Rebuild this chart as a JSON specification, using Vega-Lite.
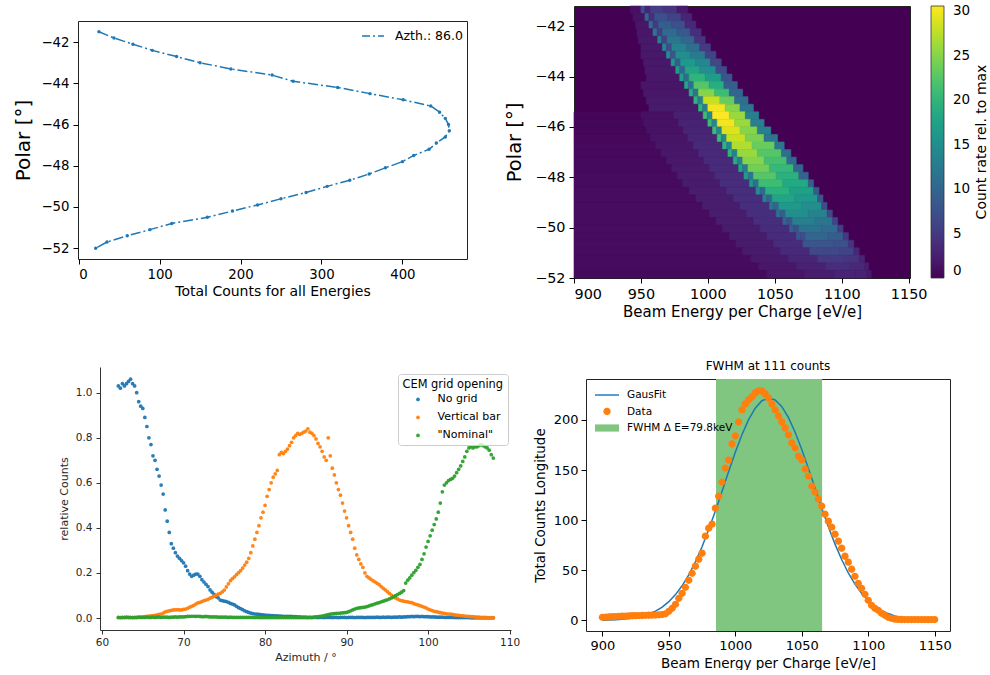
{
"$schema":"https://vega.github.io/schema/vega-lite/v6.json",
"padding":{"left":13,"top":5,"right":0,"bottom":0},
"config":{"font":"DejaVu Sans","view":{"stroke":null},
"axis":{"grid":false,"domainColor":"#000","tickColor":"#000","labelColor":"#000","titleColor":"#000","titleFontWeight":"normal","tickSize":5,"labelFont":"DejaVu Sans","titleFont":"DejaVu Sans"},
"legend":{"labelFont":"DejaVu Sans","titleFont":"DejaVu Sans","labelColor":"#000","titleColor":"#000"},
"title":{"font":"DejaVu Sans","color":"#000"}},
"spacing":39,
"resolve":{"scale":{"color":"independent","shape":"independent","stroke":"independent"},"legend":{"color":"independent","shape":"independent","stroke":"independent"}},
"vconcat":[
{"spacing":36,"resolve":{"scale":{"color":"independent","shape":"independent","stroke":"independent"},"legend":{"color":"independent","shape":"independent","stroke":"independent"}},"hconcat":[
 {"bounds":"flush","spacing":14,"resolve":{"scale":{"color":"independent"},"legend":{"color":"independent"}},"vconcat":[
  {"width":1,"height":1,"data":{"values":[]},"mark":"point"},
  {"width":389,"height":238,"view":{"stroke":"#222"},
   "data":{"values":[
{"i":1,"x":25,"y":-41.5},{"i":2,"x":43.6,"y":-41.8},{"i":3,"x":67,"y":-42.1},{"i":4,"x":91,"y":-42.4},{"i":5,"x":121,"y":-42.7},{"i":6,"x":150,"y":-43.0},{"i":7,"x":188,"y":-43.3},{"i":8,"x":239,"y":-43.6},{"i":9,"x":265,"y":-43.9},{"i":10,"x":320,"y":-44.2},{"i":11,"x":360,"y":-44.5},{"i":12,"x":401,"y":-44.8},{"i":13,"x":435,"y":-45.1},{"i":14,"x":446,"y":-45.4},{"i":15,"x":453,"y":-45.7},{"i":16,"x":457,"y":-46.0},{"i":17,"x":458,"y":-46.3},{"i":18,"x":453,"y":-46.6},{"i":19,"x":442,"y":-46.9},{"i":20,"x":433,"y":-47.2},{"i":21,"x":414,"y":-47.5},{"i":22,"x":400,"y":-47.8},{"i":23,"x":379,"y":-48.1},{"i":24,"x":359,"y":-48.4},{"i":25,"x":335,"y":-48.7},{"i":26,"x":307,"y":-49.0},{"i":27,"x":281,"y":-49.3},{"i":28,"x":250,"y":-49.6},{"i":29,"x":221,"y":-49.9},{"i":30,"x":190,"y":-50.2},{"i":31,"x":159,"y":-50.5},{"i":32,"x":115,"y":-50.8},{"i":33,"x":88,"y":-51.1},{"i":34,"x":60,"y":-51.4},{"i":35,"x":35,"y":-51.7},{"i":36,"x":21,"y":-52.0}]},
   "encoding":{
    "x":{"field":"x","type":"quantitative","scale":{"domain":[-0.85,479.85],"nice":false,"zero":false},"axis":{"values":[0,100,200,300,400],"format":"d","title":"Total Counts for all Energies","labelFontSize":13.3,"titleFontSize":14,"labelPadding":3,"titlePadding":4,"domain":false}},
    "y":{"field":"y","type":"quantitative","scale":{"domain":[-52.525,-40.975],"nice":false,"zero":false},"axis":{"values":[-52,-50,-48,-46,-44,-42],"format":"d","title":"Polar [°]","labelFontSize":13.3,"titleFontSize":20,"labelPadding":4,"titlePadding":7,"domain":false}}},
   "layer":[
    {"mark":{"type":"line","strokeDash":[10,3,2,3],"strokeWidth":1.5},
     "encoding":{"order":{"field":"i","type":"quantitative"},
      "color":{"datum":"Azth.: 86.0","scale":{"range":["#1f77b4"]},"legend":{"title":null,"orient":"none","legendX":283,"legendY":3,"symbolType":"stroke","symbolStrokeWidth":1.5,"symbolDash":[8,3,2,3],"symbolSize":484,"labelFontSize":12.5,"labelOffset":10,"padding":0}}}},
    {"mark":{"type":"point","filled":true,"size":12,"color":"#1f77b4","opacity":1},"encoding":{}}
   ]}
 ]},
 {"width":336,"height":272,"view":{"stroke":"#222","fill":"#440154"},
  "title":{"text":"Count rate rel. to max","orient":"right","angle":270,"fontSize":14,"fontWeight":"normal","anchor":"middle","frame":"group","offset":-10},
  "data":{"values":[
{"p":-41.5,"q":-41.2,"a":942,"b":950,"c":1.2},{"p":-41.5,"q":-41.2,"a":950,"b":953,"c":7},{"p":-41.5,"q":-41.2,"a":953,"b":957,"c":3},{"p":-41.5,"q":-41.2,"a":957,"b":967,"c":5.5},{"p":-41.5,"q":-41.2,"a":967,"b":977,"c":4.5},{"p":-41.5,"q":-41.2,"a":977,"b":985,"c":2},
{"p":-41.8,"q":-41.5,"a":944,"b":953,"c":1.4},{"p":-41.8,"q":-41.5,"a":953,"b":956,"c":10},{"p":-41.8,"q":-41.5,"a":956,"b":960,"c":4},{"p":-41.8,"q":-41.5,"a":960,"b":970,"c":7.5},{"p":-41.8,"q":-41.5,"a":970,"b":980,"c":6},{"p":-41.8,"q":-41.5,"a":980,"b":988,"c":3},
{"p":-42.1,"q":-41.8,"a":946,"b":956,"c":1.6},{"p":-42.1,"q":-41.8,"a":956,"b":959,"c":11},{"p":-42.1,"q":-41.8,"a":959,"b":963,"c":5},{"p":-42.1,"q":-41.8,"a":963,"b":973,"c":9},{"p":-42.1,"q":-41.8,"a":973,"b":983,"c":7.5},{"p":-42.1,"q":-41.8,"a":983,"b":991,"c":3.5},
{"p":-42.4,"q":-42.1,"a":947,"b":959,"c":1.8},{"p":-42.4,"q":-42.1,"a":959,"b":962,"c":12},{"p":-42.4,"q":-42.1,"a":962,"b":966,"c":5.5},{"p":-42.4,"q":-42.1,"a":966,"b":977,"c":10.5},{"p":-42.4,"q":-42.1,"a":977,"b":987,"c":8.5},{"p":-42.4,"q":-42.1,"a":987,"b":995,"c":4},
{"p":-42.7,"q":-42.4,"a":948,"b":962.5,"c":1.9},{"p":-42.7,"q":-42.4,"a":962.5,"b":965.5,"c":13},{"p":-42.7,"q":-42.4,"a":965.5,"b":969.5,"c":6},{"p":-42.7,"q":-42.4,"a":969.5,"b":980,"c":12},{"p":-42.7,"q":-42.4,"a":980,"b":990,"c":10},{"p":-42.7,"q":-42.4,"a":990,"b":998,"c":4.5},
{"p":-43.0,"q":-42.7,"a":950,"b":966,"c":1.9},{"p":-43.0,"q":-42.7,"a":966,"b":969,"c":14},{"p":-43.0,"q":-42.7,"a":969,"b":973,"c":7},{"p":-43.0,"q":-42.7,"a":973,"b":984,"c":13.5},{"p":-43.0,"q":-42.7,"a":984,"b":994,"c":11},{"p":-43.0,"q":-42.7,"a":994,"b":1002,"c":5},
{"p":-43.3,"q":-43.0,"a":950,"b":969,"c":1.9},{"p":-43.3,"q":-43.0,"a":969,"b":972,"c":15},{"p":-43.3,"q":-43.0,"a":972,"b":976,"c":8},{"p":-43.3,"q":-43.0,"a":976,"b":987,"c":15},{"p":-43.3,"q":-43.0,"a":987,"b":998,"c":12.5},{"p":-43.3,"q":-43.0,"a":998,"b":1006,"c":6},
{"p":-43.6,"q":-43.3,"a":952,"b":972.5,"c":1.9},{"p":-43.6,"q":-43.3,"a":972.5,"b":975.5,"c":16},{"p":-43.6,"q":-43.3,"a":975.5,"b":979.5,"c":9},{"p":-43.6,"q":-43.3,"a":979.5,"b":991,"c":16.5},{"p":-43.6,"q":-43.3,"a":991,"b":1002,"c":14},{"p":-43.6,"q":-43.3,"a":1002,"b":1010,"c":6.5},
{"p":-43.9,"q":-43.6,"a":953,"b":976,"c":1.9},{"p":-43.9,"q":-43.6,"a":976,"b":979,"c":17},{"p":-43.9,"q":-43.6,"a":979,"b":983,"c":10},{"p":-43.9,"q":-43.6,"a":983,"b":994,"c":18},{"p":-43.9,"q":-43.6,"a":994,"b":1006,"c":15},{"p":-43.9,"q":-43.6,"a":1006,"b":1014,"c":7},
{"p":-44.2,"q":-43.9,"a":954,"b":979,"c":1.8},{"p":-44.2,"q":-43.9,"a":979,"b":982,"c":17.5},{"p":-44.2,"q":-43.9,"a":982,"b":986,"c":10.5},{"p":-44.2,"q":-43.9,"a":986,"b":998,"c":20},{"p":-44.2,"q":-43.9,"a":998,"b":1010,"c":17},{"p":-44.2,"q":-43.9,"a":1010,"b":1018,"c":8},
{"p":-44.5,"q":-44.2,"a":950,"b":982.5,"c":1.6},{"p":-44.5,"q":-44.2,"a":982.5,"b":985.5,"c":18},{"p":-44.5,"q":-44.2,"a":985.5,"b":989.5,"c":11},{"p":-44.5,"q":-44.2,"a":989.5,"b":1001,"c":22.5},{"p":-44.5,"q":-44.2,"a":1001,"b":1012,"c":19},{"p":-44.5,"q":-44.2,"a":1012,"b":1022,"c":9},
{"p":-44.8,"q":-44.5,"a":952,"b":986,"c":1.8},{"p":-44.8,"q":-44.5,"a":986,"b":989,"c":19},{"p":-44.8,"q":-44.5,"a":989,"b":993,"c":12},{"p":-44.8,"q":-44.5,"a":993,"b":1005,"c":25},{"p":-44.8,"q":-44.5,"a":1005,"b":1016,"c":21},{"p":-44.8,"q":-44.5,"a":1016,"b":1026,"c":10},
{"p":-45.1,"q":-44.8,"a":954,"b":989.5,"c":2},{"p":-45.1,"q":-44.8,"a":989.5,"b":992.5,"c":20},{"p":-45.1,"q":-44.8,"a":992.5,"b":996.5,"c":13},{"p":-45.1,"q":-44.8,"a":996.5,"b":1009,"c":28},{"p":-45.1,"q":-44.8,"a":1009,"b":1020,"c":23.5},{"p":-45.1,"q":-44.8,"a":1020,"b":1030,"c":11},
{"p":-45.4,"q":-45.1,"a":956,"b":993,"c":2.2},{"p":-45.4,"q":-45.1,"a":993,"b":996,"c":20},{"p":-45.4,"q":-45.1,"a":996,"b":1000,"c":13},{"p":-45.4,"q":-45.1,"a":1000,"b":1013,"c":30},{"p":-45.4,"q":-45.1,"a":1013,"b":1024,"c":25},{"p":-45.4,"q":-45.1,"a":1024,"b":1034,"c":12},
{"p":-45.7,"q":-45.4,"a":900,"b":950,"c":0.4},{"p":-45.7,"q":-45.4,"a":950,"b":974.5,"c":1.2},{"p":-45.7,"q":-45.4,"a":974.5,"b":996.5,"c":2.6},{"p":-45.7,"q":-45.4,"a":996.5,"b":999.5,"c":21},{"p":-45.7,"q":-45.4,"a":999.5,"b":1003.5,"c":14},{"p":-45.7,"q":-45.4,"a":1003.5,"b":1016,"c":30.5},{"p":-45.7,"q":-45.4,"a":1016,"b":1028,"c":26},{"p":-45.7,"q":-45.4,"a":1028,"b":1038,"c":13},
{"p":-46.0,"q":-45.7,"a":900,"b":952,"c":0.45},{"p":-46.0,"q":-45.7,"a":952,"b":978,"c":1.3},{"p":-46.0,"q":-45.7,"a":978,"b":1000,"c":2.8},{"p":-46.0,"q":-45.7,"a":1000,"b":1003,"c":21},{"p":-46.0,"q":-45.7,"a":1003,"b":1007,"c":14},{"p":-46.0,"q":-45.7,"a":1007,"b":1020,"c":30},{"p":-46.0,"q":-45.7,"a":1020,"b":1032,"c":26},{"p":-46.0,"q":-45.7,"a":1032,"b":1042,"c":13},
{"p":-46.3,"q":-46.0,"a":900,"b":954,"c":0.5},{"p":-46.3,"q":-46.0,"a":954,"b":981.5,"c":1.4},{"p":-46.3,"q":-46.0,"a":981.5,"b":1003.5,"c":3},{"p":-46.3,"q":-46.0,"a":1003.5,"b":1006.5,"c":21},{"p":-46.3,"q":-46.0,"a":1006.5,"b":1010.5,"c":14},{"p":-46.3,"q":-46.0,"a":1010.5,"b":1024,"c":29},{"p":-46.3,"q":-46.0,"a":1024,"b":1037,"c":25},{"p":-46.3,"q":-46.0,"a":1037,"b":1047,"c":13},
{"p":-46.6,"q":-46.3,"a":900,"b":957,"c":0.55},{"p":-46.6,"q":-46.3,"a":957,"b":985,"c":1.5},{"p":-46.6,"q":-46.3,"a":985,"b":1007,"c":3.2},{"p":-46.6,"q":-46.3,"a":1007,"b":1010,"c":21},{"p":-46.6,"q":-46.3,"a":1010,"b":1014,"c":14},{"p":-46.6,"q":-46.3,"a":1014,"b":1028,"c":28},{"p":-46.6,"q":-46.3,"a":1028,"b":1042,"c":24.5},{"p":-46.6,"q":-46.3,"a":1042,"b":1052,"c":12},
{"p":-46.9,"q":-46.6,"a":900,"b":961,"c":0.6},{"p":-46.9,"q":-46.6,"a":961,"b":989,"c":1.7},{"p":-46.9,"q":-46.6,"a":989,"b":1011,"c":3.4},{"p":-46.9,"q":-46.6,"a":1011,"b":1014,"c":20},{"p":-46.9,"q":-46.6,"a":1014,"b":1018,"c":14},{"p":-46.9,"q":-46.6,"a":1018,"b":1033,"c":27},{"p":-46.9,"q":-46.6,"a":1033,"b":1050,"c":23.5},{"p":-46.9,"q":-46.6,"a":1050,"b":1057,"c":12},
{"p":-47.2,"q":-46.9,"a":900,"b":965,"c":0.6},{"p":-47.2,"q":-46.9,"a":965,"b":993,"c":1.8},{"p":-47.2,"q":-46.9,"a":993,"b":1015,"c":3.5},{"p":-47.2,"q":-46.9,"a":1015,"b":1018,"c":20},{"p":-47.2,"q":-46.9,"a":1018,"b":1022,"c":13.5},{"p":-47.2,"q":-46.9,"a":1022,"b":1037,"c":26},{"p":-47.2,"q":-46.9,"a":1037,"b":1055,"c":22.5},{"p":-47.2,"q":-46.9,"a":1055,"b":1062,"c":11},
{"p":-47.5,"q":-47.2,"a":900,"b":969,"c":0.7},{"p":-47.5,"q":-47.2,"a":969,"b":997,"c":1.9},{"p":-47.5,"q":-47.2,"a":997,"b":1019,"c":3.6},{"p":-47.5,"q":-47.2,"a":1019,"b":1022,"c":19},{"p":-47.5,"q":-47.2,"a":1022,"b":1026,"c":13},{"p":-47.5,"q":-47.2,"a":1026,"b":1042,"c":25},{"p":-47.5,"q":-47.2,"a":1042,"b":1059,"c":21.5},{"p":-47.5,"q":-47.2,"a":1059,"b":1066,"c":10.5},
{"p":-47.8,"q":-47.5,"a":900,"b":973,"c":0.7},{"p":-47.8,"q":-47.5,"a":973,"b":1001,"c":2},{"p":-47.8,"q":-47.5,"a":1001,"b":1023,"c":3.7},{"p":-47.8,"q":-47.5,"a":1023,"b":1026,"c":18},{"p":-47.8,"q":-47.5,"a":1026,"b":1030,"c":12.5},{"p":-47.8,"q":-47.5,"a":1030,"b":1046,"c":24},{"p":-47.8,"q":-47.5,"a":1046,"b":1064,"c":20.5},{"p":-47.8,"q":-47.5,"a":1064,"b":1071,"c":10},
{"p":-48.1,"q":-47.8,"a":900,"b":977,"c":0.8},{"p":-48.1,"q":-47.8,"a":977,"b":1005,"c":2.1},{"p":-48.1,"q":-47.8,"a":1005,"b":1027,"c":3.8},{"p":-48.1,"q":-47.8,"a":1027,"b":1030,"c":17},{"p":-48.1,"q":-47.8,"a":1030,"b":1034,"c":12},{"p":-48.1,"q":-47.8,"a":1034,"b":1051,"c":22.5},{"p":-48.1,"q":-47.8,"a":1051,"b":1068,"c":19.5},{"p":-48.1,"q":-47.8,"a":1068,"b":1075,"c":9.5},
{"p":-48.4,"q":-48.1,"a":900,"b":981,"c":0.8},{"p":-48.4,"q":-48.1,"a":981,"b":1009,"c":2.2},{"p":-48.4,"q":-48.1,"a":1009,"b":1031,"c":3.9},{"p":-48.4,"q":-48.1,"a":1031,"b":1034,"c":16},{"p":-48.4,"q":-48.1,"a":1034,"b":1038,"c":11},{"p":-48.4,"q":-48.1,"a":1038,"b":1056,"c":21},{"p":-48.4,"q":-48.1,"a":1056,"b":1075,"c":18.5},{"p":-48.4,"q":-48.1,"a":1075,"b":1079,"c":9},
{"p":-48.7,"q":-48.4,"a":900,"b":986,"c":0.9},{"p":-48.7,"q":-48.4,"a":986,"b":1014,"c":2.3},{"p":-48.7,"q":-48.4,"a":1014,"b":1036,"c":4},{"p":-48.7,"q":-48.4,"a":1036,"b":1039,"c":15},{"p":-48.7,"q":-48.4,"a":1039,"b":1043,"c":10.5},{"p":-48.7,"q":-48.4,"a":1043,"b":1061,"c":19.5},{"p":-48.7,"q":-48.4,"a":1061,"b":1079,"c":17.5},{"p":-48.7,"q":-48.4,"a":1079,"b":1083,"c":8.5},
{"p":-49.0,"q":-48.7,"a":900,"b":991,"c":0.9},{"p":-49.0,"q":-48.7,"a":991,"b":1019,"c":2.3},{"p":-49.0,"q":-48.7,"a":1019,"b":1041,"c":4},{"p":-49.0,"q":-48.7,"a":1041,"b":1044,"c":13},{"p":-49.0,"q":-48.7,"a":1044,"b":1048,"c":10},{"p":-49.0,"q":-48.7,"a":1048,"b":1065,"c":18},{"p":-49.0,"q":-48.7,"a":1065,"b":1082,"c":16.5},{"p":-49.0,"q":-48.7,"a":1082,"b":1086,"c":8},
{"p":-49.3,"q":-49.0,"a":900,"b":996,"c":0.9},{"p":-49.3,"q":-49.0,"a":996,"b":1024,"c":2.3},{"p":-49.3,"q":-49.0,"a":1024,"b":1046,"c":4},{"p":-49.3,"q":-49.0,"a":1046,"b":1049,"c":12},{"p":-49.3,"q":-49.0,"a":1049,"b":1053,"c":9.5},{"p":-49.3,"q":-49.0,"a":1053,"b":1070,"c":16.5},{"p":-49.3,"q":-49.0,"a":1070,"b":1085,"c":15},{"p":-49.3,"q":-49.0,"a":1085,"b":1089,"c":7},
{"p":-49.6,"q":-49.3,"a":900,"b":1001,"c":0.9},{"p":-49.6,"q":-49.3,"a":1001,"b":1029,"c":2.3},{"p":-49.6,"q":-49.3,"a":1029,"b":1051,"c":4},{"p":-49.6,"q":-49.3,"a":1051,"b":1054,"c":11},{"p":-49.6,"q":-49.3,"a":1054,"b":1058,"c":9},{"p":-49.6,"q":-49.3,"a":1058,"b":1075,"c":15},{"p":-49.6,"q":-49.3,"a":1075,"b":1089,"c":13.5},{"p":-49.6,"q":-49.3,"a":1089,"b":1093,"c":6.5},
{"p":-49.9,"q":-49.6,"a":900,"b":1006,"c":0.9},{"p":-49.9,"q":-49.6,"a":1006,"b":1034,"c":2.3},{"p":-49.9,"q":-49.6,"a":1034,"b":1056,"c":4},{"p":-49.9,"q":-49.6,"a":1056,"b":1059,"c":10},{"p":-49.9,"q":-49.6,"a":1059,"b":1063,"c":8},{"p":-49.9,"q":-49.6,"a":1063,"b":1080,"c":13},{"p":-49.9,"q":-49.6,"a":1080,"b":1093,"c":12},{"p":-49.9,"q":-49.6,"a":1093,"b":1097,"c":6},
{"p":-50.2,"q":-49.9,"a":900,"b":1011,"c":0.9},{"p":-50.2,"q":-49.9,"a":1011,"b":1039,"c":2.2},{"p":-50.2,"q":-49.9,"a":1039,"b":1061,"c":3.8},{"p":-50.2,"q":-49.9,"a":1061,"b":1064,"c":9},{"p":-50.2,"q":-49.9,"a":1064,"b":1068,"c":7.5},{"p":-50.2,"q":-49.9,"a":1068,"b":1085,"c":11.5},{"p":-50.2,"q":-49.9,"a":1085,"b":1097,"c":10.5},{"p":-50.2,"q":-49.9,"a":1097,"b":1101,"c":5.5},
{"p":-50.5,"q":-50.2,"a":900,"b":1016,"c":0.9},{"p":-50.5,"q":-50.2,"a":1016,"b":1044,"c":2.2},{"p":-50.5,"q":-50.2,"a":1044,"b":1066,"c":3.8},{"p":-50.5,"q":-50.2,"a":1066,"b":1069,"c":8},{"p":-50.5,"q":-50.2,"a":1069,"b":1073,"c":7},{"p":-50.5,"q":-50.2,"a":1073,"b":1090,"c":10},{"p":-50.5,"q":-50.2,"a":1090,"b":1101,"c":9},{"p":-50.5,"q":-50.2,"a":1101,"b":1105,"c":5},
{"p":-50.8,"q":-50.5,"a":900,"b":1021,"c":0.9},{"p":-50.8,"q":-50.5,"a":1021,"b":1049,"c":2.2},{"p":-50.8,"q":-50.5,"a":1049,"b":1071,"c":3.8},{"p":-50.8,"q":-50.5,"a":1071,"b":1094,"c":8},{"p":-50.8,"q":-50.5,"a":1094,"b":1105,"c":7.5},{"p":-50.8,"q":-50.5,"a":1105,"b":1109,"c":4.5},
{"p":-51.1,"q":-50.8,"a":900,"b":1026,"c":0.9},{"p":-51.1,"q":-50.8,"a":1026,"b":1054,"c":2.1},{"p":-51.1,"q":-50.8,"a":1054,"b":1076,"c":3.5},{"p":-51.1,"q":-50.8,"a":1076,"b":1098,"c":6.5},{"p":-51.1,"q":-50.8,"a":1098,"b":1109,"c":6},{"p":-51.1,"q":-50.8,"a":1109,"b":1113,"c":3.5},
{"p":-51.4,"q":-51.1,"a":900,"b":1032,"c":0.8},{"p":-51.4,"q":-51.1,"a":1032,"b":1060,"c":1.9},{"p":-51.4,"q":-51.1,"a":1060,"b":1082,"c":3.1},{"p":-51.4,"q":-51.1,"a":1082,"b":1102,"c":5},{"p":-51.4,"q":-51.1,"a":1102,"b":1113,"c":4.5},{"p":-51.4,"q":-51.1,"a":1113,"b":1117,"c":3},
{"p":-51.7,"q":-51.4,"a":900,"b":1038,"c":0.8},{"p":-51.7,"q":-51.4,"a":1038,"b":1066,"c":1.8},{"p":-51.7,"q":-51.4,"a":1066,"b":1088,"c":2.7},{"p":-51.7,"q":-51.4,"a":1088,"b":1106,"c":4},{"p":-51.7,"q":-51.4,"a":1106,"b":1117,"c":3.5},{"p":-51.7,"q":-51.4,"a":1117,"b":1120,"c":2.5},
{"p":-52.0,"q":-51.7,"a":900,"b":1044,"c":0.7},{"p":-52.0,"q":-51.7,"a":1044,"b":1072,"c":1.6},{"p":-52.0,"q":-51.7,"a":1072,"b":1094,"c":2.3},{"p":-52.0,"q":-51.7,"a":1094,"b":1110,"c":3},{"p":-52.0,"q":-51.7,"a":1110,"b":1119,"c":2.8},{"p":-52.0,"q":-51.7,"a":1119,"b":1122,"c":2}
  ]},
  "mark":{"type":"rect","strokeWidth":0.6},
  "encoding":{
   "x":{"field":"a","type":"quantitative","scale":{"domain":[900,1151],"nice":false,"zero":false},"axis":{"values":[900,950,1000,1050,1100,1150],"format":"d","title":"Beam Energy per Charge [eV/e]","labelFontSize":14.4,"titleFontSize":15,"labelPadding":4,"titlePadding":4,"domain":false}},
   "x2":{"field":"b"},
   "y":{"field":"q","type":"quantitative","scale":{"domain":[-52,-41.2],"nice":false,"zero":false},"axis":{"values":[-52,-50,-48,-46,-44,-42],"format":"d","title":"Polar [°]","labelFontSize":14.4,"titleFontSize":19.5,"labelPadding":4,"titlePadding":10,"domain":false}},
   "y2":{"field":"p"},
   "color":{"field":"c","type":"quantitative","scale":{"scheme":"viridis","domain":[0,30.6]},"legend":{"type":"gradient","title":null,"orient":"right","offset":21,"direction":"vertical","gradientLength":272,"gradientThickness":13,"values":[0,5,10,15,20,25,30],"labelFontSize":13.5,"labelOffset":9,"gradientStrokeColor":"#333","gradientStrokeWidth":0.8,"padding":0,"labelOverlap":false}},
   "stroke":{"field":"c","type":"quantitative","scale":{"scheme":"viridis","domain":[0,30.60001]},"legend":null}
  }}
]},
{"spacing":12,"resolve":{"scale":{"color":"independent","shape":"independent","stroke":"independent"},"legend":{"color":"independent","shape":"independent","stroke":"independent"}},"hconcat":[
 {"bounds":"flush","spacing":21,"resolve":{"scale":{"color":"independent"},"legend":{"color":"independent"}},"hconcat":[
  {"width":1,"height":1,"data":{"values":[]},"mark":"point"},
  {"width":411,"height":263,"view":{"stroke":null},
   "data":{"values":[
{"a":62,"s":"n","r":1.03},{"a":62.25,"s":"n","r":1.02},{"a":62.5,"s":"n","r":1.04},{"a":62.75,"s":"n","r":1.03},{"a":63,"s":"n","r":1.04},{"a":63.25,"s":"n","r":1.05},{"a":63.5,"s":"n","r":1.06},{"a":63.75,"s":"n","r":1.04},{"a":64,"s":"n","r":1.03},{"a":64.25,"s":"n","r":1.0},{"a":64.5,"s":"n","r":0.96},{"a":64.75,"s":"n","r":0.94},{"a":65,"s":"n","r":0.93},{"a":65.25,"s":"n","r":0.89},{"a":65.5,"s":"n","r":0.85},{"a":65.75,"s":"n","r":0.8},{"a":66,"s":"n","r":0.77},{"a":66.25,"s":"n","r":0.72},{"a":66.5,"s":"n","r":0.7},{"a":66.75,"s":"n","r":0.66},{"a":67,"s":"n","r":0.63},{"a":67.25,"s":"n","r":0.59},{"a":67.5,"s":"n","r":0.55},{"a":67.75,"s":"n","r":0.48},{"a":68,"s":"n","r":0.43},{"a":68.25,"s":"n","r":0.38},{"a":68.5,"s":"n","r":0.33},{"a":68.75,"s":"n","r":0.31},{"a":69,"s":"n","r":0.29},{"a":69.25,"s":"n","r":0.275},{"a":69.5,"s":"n","r":0.265},{"a":69.75,"s":"n","r":0.255},{"a":70,"s":"n","r":0.245},{"a":70.25,"s":"n","r":0.23},{"a":70.5,"s":"n","r":0.21},{"a":70.75,"s":"n","r":0.195},{"a":71,"s":"n","r":0.185},{"a":71.25,"s":"n","r":0.19},{"a":71.5,"s":"n","r":0.195},{"a":71.75,"s":"n","r":0.195},{"a":72,"s":"n","r":0.185},{"a":72.25,"s":"n","r":0.17},{"a":72.5,"s":"n","r":0.16},{"a":72.75,"s":"n","r":0.15},{"a":73,"s":"n","r":0.14},{"a":73.25,"s":"n","r":0.125},{"a":73.5,"s":"n","r":0.115},{"a":73.75,"s":"n","r":0.105},{"a":74,"s":"n","r":0.095},{"a":74.25,"s":"n","r":0.09},{"a":74.5,"s":"n","r":0.08},{"a":74.75,"s":"n","r":0.077},{"a":75,"s":"n","r":0.075},{"a":75.25,"s":"n","r":0.073},{"a":75.5,"s":"n","r":0.07},{"a":75.75,"s":"n","r":0.065},{"a":76,"s":"n","r":0.062},{"a":76.25,"s":"n","r":0.058},{"a":76.5,"s":"n","r":0.052},{"a":76.75,"s":"n","r":0.046},{"a":77,"s":"n","r":0.042},{"a":77.25,"s":"n","r":0.037},{"a":77.5,"s":"n","r":0.032},{"a":77.75,"s":"n","r":0.028},{"a":78,"s":"n","r":0.025},{"a":78.25,"s":"n","r":0.022},{"a":78.5,"s":"n","r":0.02},{"a":78.75,"s":"n","r":0.018},{"a":79,"s":"n","r":0.017},{"a":79.25,"s":"n","r":0.016},{"a":79.5,"s":"n","r":0.015},{"a":79.75,"s":"n","r":0.014},{"a":80,"s":"n","r":0.013},{"a":80.25,"s":"n","r":0.012},{"a":80.5,"s":"n","r":0.012},{"a":80.75,"s":"n","r":0.011},{"a":81,"s":"n","r":0.011},{"a":81.25,"s":"n","r":0.01},{"a":81.5,"s":"n","r":0.01},{"a":81.75,"s":"n","r":0.009},{"a":82,"s":"n","r":0.009},{"a":82.25,"s":"n","r":0.008},{"a":82.5,"s":"n","r":0.008},{"a":82.75,"s":"n","r":0.007},{"a":83,"s":"n","r":0.007},{"a":83.25,"s":"n","r":0.007},{"a":83.5,"s":"n","r":0.006},{"a":83.75,"s":"n","r":0.006},{"a":84,"s":"n","r":0.005},{"a":84.25,"s":"n","r":0.005},{"a":84.5,"s":"n","r":0.004},{"a":84.75,"s":"n","r":0.004},{"a":85,"s":"n","r":0.004},{"a":85.25,"s":"n","r":0.003},{"a":85.5,"s":"n","r":0.003},{"a":85.75,"s":"n","r":0.002},{"a":86,"s":"n","r":0.003},{"a":86.25,"s":"n","r":0.003},{"a":86.5,"s":"n","r":0.002},{"a":86.75,"s":"n","r":0.003},{"a":87,"s":"n","r":0.003},{"a":87.25,"s":"n","r":0.002},{"a":87.5,"s":"n","r":0.003},{"a":87.75,"s":"n","r":0.003},{"a":88,"s":"n","r":0.003},{"a":88.25,"s":"n","r":0.002},{"a":88.5,"s":"n","r":0.003},{"a":88.75,"s":"n","r":0.003},{"a":89,"s":"n","r":0.002},{"a":89.25,"s":"n","r":0.003},{"a":89.5,"s":"n","r":0.003},{"a":89.75,"s":"n","r":0.003},{"a":90,"s":"n","r":0.002},{"a":90.25,"s":"n","r":0.003},{"a":90.5,"s":"n","r":0.003},{"a":90.75,"s":"n","r":0.003},{"a":91,"s":"n","r":0.002},{"a":91.25,"s":"n","r":0.003},{"a":91.5,"s":"n","r":0.003},{"a":91.75,"s":"n","r":0.003},{"a":92,"s":"n","r":0.003},{"a":92.25,"s":"n","r":0.002},{"a":92.5,"s":"n","r":0.003},{"a":92.75,"s":"n","r":0.003},{"a":93,"s":"n","r":0.003},{"a":93.25,"s":"n","r":0.003},{"a":93.5,"s":"n","r":0.003},{"a":93.75,"s":"n","r":0.004},{"a":94,"s":"n","r":0.003},{"a":94.25,"s":"n","r":0.003},{"a":94.5,"s":"n","r":0.004},{"a":94.75,"s":"n","r":0.003},{"a":95,"s":"n","r":0.004},{"a":95.25,"s":"n","r":0.004},{"a":95.5,"s":"n","r":0.003},{"a":95.75,"s":"n","r":0.004},{"a":96,"s":"n","r":0.004},{"a":96.25,"s":"n","r":0.004},{"a":96.5,"s":"n","r":0.005},{"a":96.75,"s":"n","r":0.004},{"a":97,"s":"n","r":0.005},{"a":97.25,"s":"n","r":0.005},{"a":97.5,"s":"n","r":0.006},{"a":97.75,"s":"n","r":0.006},{"a":98,"s":"n","r":0.007},{"a":98.25,"s":"n","r":0.006},{"a":98.5,"s":"n","r":0.007},{"a":98.75,"s":"n","r":0.007},{"a":99,"s":"n","r":0.006},{"a":99.25,"s":"n","r":0.007},{"a":99.5,"s":"n","r":0.006},{"a":99.75,"s":"n","r":0.006},{"a":100,"s":"n","r":0.006},{"a":100.25,"s":"n","r":0.005},{"a":100.5,"s":"n","r":0.005},{"a":100.75,"s":"n","r":0.005},{"a":101,"s":"n","r":0.004},{"a":101.25,"s":"n","r":0.004},{"a":101.5,"s":"n","r":0.004},{"a":101.75,"s":"n","r":0.004},{"a":102,"s":"n","r":0.003},{"a":102.25,"s":"n","r":0.003},{"a":102.5,"s":"n","r":0.003},{"a":102.75,"s":"n","r":0.003},{"a":103,"s":"n","r":0.003},{"a":103.25,"s":"n","r":0.002},{"a":103.5,"s":"n","r":0.002},{"a":103.75,"s":"n","r":0.002},{"a":104,"s":"n","r":0.002},{"a":104.25,"s":"n","r":0.002},{"a":104.5,"s":"n","r":0.002},{"a":104.75,"s":"n","r":0.002},{"a":105,"s":"n","r":0.002},{"a":105.25,"s":"n","r":0.001},{"a":105.5,"s":"n","r":0.001},{"a":105.75,"s":"n","r":0.001},{"a":106,"s":"n","r":0.001},{"a":106.25,"s":"n","r":0.001},{"a":106.5,"s":"n","r":0.001},{"a":106.75,"s":"n","r":0.001},{"a":107,"s":"n","r":0.001},{"a":107.25,"s":"n","r":0.001},{"a":107.5,"s":"n","r":0.001},{"a":107.75,"s":"n","r":0.001},{"a":108,"s":"n","r":0.001},
{"a":62,"s":"v","r":0.002},{"a":62.25,"s":"v","r":0.002},{"a":62.5,"s":"v","r":0.002},{"a":62.75,"s":"v","r":0.002},{"a":63,"s":"v","r":0.002},{"a":63.25,"s":"v","r":0.002},{"a":63.5,"s":"v","r":0.002},{"a":63.75,"s":"v","r":0.002},{"a":64,"s":"v","r":0.002},{"a":64.25,"s":"v","r":0.002},{"a":64.5,"s":"v","r":0.003},{"a":64.75,"s":"v","r":0.004},{"a":65,"s":"v","r":0.005},{"a":65.25,"s":"v","r":0.006},{"a":65.5,"s":"v","r":0.008},{"a":65.75,"s":"v","r":0.009},{"a":66,"s":"v","r":0.01},{"a":66.25,"s":"v","r":0.011},{"a":66.5,"s":"v","r":0.012},{"a":66.75,"s":"v","r":0.014},{"a":67,"s":"v","r":0.016},{"a":67.25,"s":"v","r":0.018},{"a":67.5,"s":"v","r":0.022},{"a":67.75,"s":"v","r":0.027},{"a":68,"s":"v","r":0.03},{"a":68.25,"s":"v","r":0.032},{"a":68.5,"s":"v","r":0.034},{"a":68.75,"s":"v","r":0.036},{"a":69,"s":"v","r":0.036},{"a":69.25,"s":"v","r":0.037},{"a":69.5,"s":"v","r":0.036},{"a":69.75,"s":"v","r":0.036},{"a":70,"s":"v","r":0.038},{"a":70.25,"s":"v","r":0.04},{"a":70.5,"s":"v","r":0.043},{"a":70.75,"s":"v","r":0.048},{"a":71,"s":"v","r":0.052},{"a":71.25,"s":"v","r":0.056},{"a":71.5,"s":"v","r":0.062},{"a":71.75,"s":"v","r":0.067},{"a":72,"s":"v","r":0.07},{"a":72.25,"s":"v","r":0.073},{"a":72.5,"s":"v","r":0.077},{"a":72.75,"s":"v","r":0.08},{"a":73,"s":"v","r":0.083},{"a":73.25,"s":"v","r":0.088},{"a":73.5,"s":"v","r":0.092},{"a":73.75,"s":"v","r":0.097},{"a":74,"s":"v","r":0.101},{"a":74.25,"s":"v","r":0.106},{"a":74.5,"s":"v","r":0.11},{"a":74.75,"s":"v","r":0.116},{"a":75,"s":"v","r":0.124},{"a":75.25,"s":"v","r":0.138},{"a":75.5,"s":"v","r":0.152},{"a":75.75,"s":"v","r":0.166},{"a":76,"s":"v","r":0.175},{"a":76.25,"s":"v","r":0.183},{"a":76.5,"s":"v","r":0.193},{"a":76.75,"s":"v","r":0.202},{"a":77,"s":"v","r":0.21},{"a":77.25,"s":"v","r":0.222},{"a":77.5,"s":"v","r":0.235},{"a":77.75,"s":"v","r":0.248},{"a":78,"s":"v","r":0.265},{"a":78.25,"s":"v","r":0.29},{"a":78.5,"s":"v","r":0.32},{"a":78.75,"s":"v","r":0.35},{"a":79,"s":"v","r":0.38},{"a":79.25,"s":"v","r":0.41},{"a":79.5,"s":"v","r":0.445},{"a":79.75,"s":"v","r":0.47},{"a":80,"s":"v","r":0.5},{"a":80.25,"s":"v","r":0.54},{"a":80.5,"s":"v","r":0.57},{"a":80.75,"s":"v","r":0.6},{"a":81,"s":"v","r":0.625},{"a":81.25,"s":"v","r":0.64},{"a":81.5,"s":"v","r":0.655},{"a":81.75,"s":"v","r":0.725},{"a":82,"s":"v","r":0.735},{"a":82.25,"s":"v","r":0.73},{"a":82.5,"s":"v","r":0.74},{"a":82.75,"s":"v","r":0.75},{"a":83,"s":"v","r":0.765},{"a":83.25,"s":"v","r":0.78},{"a":83.5,"s":"v","r":0.8},{"a":83.75,"s":"v","r":0.81},{"a":84,"s":"v","r":0.82},{"a":84.25,"s":"v","r":0.815},{"a":84.5,"s":"v","r":0.82},{"a":84.75,"s":"v","r":0.825},{"a":85,"s":"v","r":0.83},{"a":85.25,"s":"v","r":0.84},{"a":85.5,"s":"v","r":0.825},{"a":85.75,"s":"v","r":0.82},{"a":86,"s":"v","r":0.81},{"a":86.25,"s":"v","r":0.795},{"a":86.5,"s":"v","r":0.775},{"a":86.75,"s":"v","r":0.76},{"a":87,"s":"v","r":0.74},{"a":87.25,"s":"v","r":0.715},{"a":87.5,"s":"v","r":0.7},{"a":87.75,"s":"v","r":0.8},{"a":88,"s":"v","r":0.72},{"a":88.25,"s":"v","r":0.665},{"a":88.5,"s":"v","r":0.635},{"a":88.75,"s":"v","r":0.6},{"a":89,"s":"v","r":0.57},{"a":89.25,"s":"v","r":0.545},{"a":89.5,"s":"v","r":0.51},{"a":89.75,"s":"v","r":0.475},{"a":90,"s":"v","r":0.445},{"a":90.25,"s":"v","r":0.41},{"a":90.5,"s":"v","r":0.38},{"a":90.75,"s":"v","r":0.35},{"a":91,"s":"v","r":0.31},{"a":91.25,"s":"v","r":0.28},{"a":91.5,"s":"v","r":0.26},{"a":91.75,"s":"v","r":0.24},{"a":92,"s":"v","r":0.225},{"a":92.25,"s":"v","r":0.2},{"a":92.5,"s":"v","r":0.185},{"a":92.75,"s":"v","r":0.178},{"a":93,"s":"v","r":0.172},{"a":93.25,"s":"v","r":0.165},{"a":93.5,"s":"v","r":0.16},{"a":93.75,"s":"v","r":0.154},{"a":94,"s":"v","r":0.148},{"a":94.25,"s":"v","r":0.14},{"a":94.5,"s":"v","r":0.132},{"a":94.75,"s":"v","r":0.125},{"a":95,"s":"v","r":0.117},{"a":95.25,"s":"v","r":0.109},{"a":95.5,"s":"v","r":0.102},{"a":95.75,"s":"v","r":0.095},{"a":96,"s":"v","r":0.089},{"a":96.25,"s":"v","r":0.085},{"a":96.5,"s":"v","r":0.08},{"a":96.75,"s":"v","r":0.077},{"a":97,"s":"v","r":0.075},{"a":97.25,"s":"v","r":0.073},{"a":97.5,"s":"v","r":0.072},{"a":97.75,"s":"v","r":0.07},{"a":98,"s":"v","r":0.068},{"a":98.25,"s":"v","r":0.064},{"a":98.5,"s":"v","r":0.061},{"a":98.75,"s":"v","r":0.058},{"a":99,"s":"v","r":0.055},{"a":99.25,"s":"v","r":0.052},{"a":99.5,"s":"v","r":0.049},{"a":99.75,"s":"v","r":0.045},{"a":100,"s":"v","r":0.04},{"a":100.25,"s":"v","r":0.036},{"a":100.5,"s":"v","r":0.033},{"a":100.75,"s":"v","r":0.03},{"a":101,"s":"v","r":0.028},{"a":101.25,"s":"v","r":0.026},{"a":101.5,"s":"v","r":0.024},{"a":101.75,"s":"v","r":0.022},{"a":102,"s":"v","r":0.021},{"a":102.25,"s":"v","r":0.019},{"a":102.5,"s":"v","r":0.018},{"a":102.75,"s":"v","r":0.017},{"a":103,"s":"v","r":0.016},{"a":103.25,"s":"v","r":0.014},{"a":103.5,"s":"v","r":0.013},{"a":103.75,"s":"v","r":0.012},{"a":104,"s":"v","r":0.011},{"a":104.25,"s":"v","r":0.01},{"a":104.5,"s":"v","r":0.009},{"a":104.75,"s":"v","r":0.008},{"a":105,"s":"v","r":0.007},{"a":105.25,"s":"v","r":0.006},{"a":105.5,"s":"v","r":0.006},{"a":105.75,"s":"v","r":0.005},{"a":106,"s":"v","r":0.004},{"a":106.25,"s":"v","r":0.004},{"a":106.5,"s":"v","r":0.003},{"a":106.75,"s":"v","r":0.003},{"a":107,"s":"v","r":0.003},{"a":107.25,"s":"v","r":0.002},{"a":107.5,"s":"v","r":0.002},{"a":107.75,"s":"v","r":0.002},{"a":108,"s":"v","r":0.002},
{"a":62,"s":"g","r":0.003},{"a":62.25,"s":"g","r":0.002},{"a":62.5,"s":"g","r":0.003},{"a":62.75,"s":"g","r":0.003},{"a":63,"s":"g","r":0.004},{"a":63.25,"s":"g","r":0.003},{"a":63.5,"s":"g","r":0.003},{"a":63.75,"s":"g","r":0.002},{"a":64,"s":"g","r":0.003},{"a":64.25,"s":"g","r":0.003},{"a":64.5,"s":"g","r":0.004},{"a":64.75,"s":"g","r":0.003},{"a":65,"s":"g","r":0.003},{"a":65.25,"s":"g","r":0.003},{"a":65.5,"s":"g","r":0.004},{"a":65.75,"s":"g","r":0.003},{"a":66,"s":"g","r":0.003},{"a":66.25,"s":"g","r":0.004},{"a":66.5,"s":"g","r":0.003},{"a":66.75,"s":"g","r":0.004},{"a":67,"s":"g","r":0.004},{"a":67.25,"s":"g","r":0.003},{"a":67.5,"s":"g","r":0.004},{"a":67.75,"s":"g","r":0.004},{"a":68,"s":"g","r":0.004},{"a":68.25,"s":"g","r":0.003},{"a":68.5,"s":"g","r":0.004},{"a":68.75,"s":"g","r":0.004},{"a":69,"s":"g","r":0.005},{"a":69.25,"s":"g","r":0.004},{"a":69.5,"s":"g","r":0.005},{"a":69.75,"s":"g","r":0.005},{"a":70,"s":"g","r":0.005},{"a":70.25,"s":"g","r":0.006},{"a":70.5,"s":"g","r":0.007},{"a":70.75,"s":"g","r":0.007},{"a":71,"s":"g","r":0.008},{"a":71.25,"s":"g","r":0.008},{"a":71.5,"s":"g","r":0.007},{"a":71.75,"s":"g","r":0.008},{"a":72,"s":"g","r":0.007},{"a":72.25,"s":"g","r":0.006},{"a":72.5,"s":"g","r":0.006},{"a":72.75,"s":"g","r":0.007},{"a":73,"s":"g","r":0.006},{"a":73.25,"s":"g","r":0.005},{"a":73.5,"s":"g","r":0.005},{"a":73.75,"s":"g","r":0.005},{"a":74,"s":"g","r":0.005},{"a":74.25,"s":"g","r":0.004},{"a":74.5,"s":"g","r":0.004},{"a":74.75,"s":"g","r":0.004},{"a":75,"s":"g","r":0.004},{"a":75.25,"s":"g","r":0.004},{"a":75.5,"s":"g","r":0.003},{"a":75.75,"s":"g","r":0.004},{"a":76,"s":"g","r":0.003},{"a":76.25,"s":"g","r":0.003},{"a":76.5,"s":"g","r":0.003},{"a":76.75,"s":"g","r":0.003},{"a":77,"s":"g","r":0.003},{"a":77.25,"s":"g","r":0.003},{"a":77.5,"s":"g","r":0.003},{"a":77.75,"s":"g","r":0.003},{"a":78,"s":"g","r":0.003},{"a":78.25,"s":"g","r":0.003},{"a":78.5,"s":"g","r":0.003},{"a":78.75,"s":"g","r":0.002},{"a":79,"s":"g","r":0.003},{"a":79.25,"s":"g","r":0.002},{"a":79.5,"s":"g","r":0.002},{"a":79.75,"s":"g","r":0.002},{"a":80,"s":"g","r":0.002},{"a":80.25,"s":"g","r":0.002},{"a":80.5,"s":"g","r":0.002},{"a":80.75,"s":"g","r":0.002},{"a":81,"s":"g","r":0.002},{"a":81.25,"s":"g","r":0.002},{"a":81.5,"s":"g","r":0.002},{"a":81.75,"s":"g","r":0.002},{"a":82,"s":"g","r":0.002},{"a":82.25,"s":"g","r":0.002},{"a":82.5,"s":"g","r":0.002},{"a":82.75,"s":"g","r":0.002},{"a":83,"s":"g","r":0.002},{"a":83.25,"s":"g","r":0.002},{"a":83.5,"s":"g","r":0.002},{"a":83.75,"s":"g","r":0.002},{"a":84,"s":"g","r":0.002},{"a":84.25,"s":"g","r":0.002},{"a":84.5,"s":"g","r":0.002},{"a":84.75,"s":"g","r":0.002},{"a":85,"s":"g","r":0.002},{"a":85.25,"s":"g","r":0.002},{"a":85.5,"s":"g","r":0.003},{"a":85.75,"s":"g","r":0.003},{"a":86,"s":"g","r":0.004},{"a":86.25,"s":"g","r":0.005},{"a":86.5,"s":"g","r":0.006},{"a":86.75,"s":"g","r":0.007},{"a":87,"s":"g","r":0.009},{"a":87.25,"s":"g","r":0.011},{"a":87.5,"s":"g","r":0.013},{"a":87.75,"s":"g","r":0.015},{"a":88,"s":"g","r":0.017},{"a":88.25,"s":"g","r":0.019},{"a":88.5,"s":"g","r":0.02},{"a":88.75,"s":"g","r":0.021},{"a":89,"s":"g","r":0.021},{"a":89.25,"s":"g","r":0.022},{"a":89.5,"s":"g","r":0.023},{"a":89.75,"s":"g","r":0.024},{"a":90,"s":"g","r":0.025},{"a":90.25,"s":"g","r":0.028},{"a":90.5,"s":"g","r":0.032},{"a":90.75,"s":"g","r":0.036},{"a":91,"s":"g","r":0.04},{"a":91.25,"s":"g","r":0.043},{"a":91.5,"s":"g","r":0.045},{"a":91.75,"s":"g","r":0.046},{"a":92,"s":"g","r":0.047},{"a":92.25,"s":"g","r":0.049},{"a":92.5,"s":"g","r":0.051},{"a":92.75,"s":"g","r":0.054},{"a":93,"s":"g","r":0.057},{"a":93.25,"s":"g","r":0.06},{"a":93.5,"s":"g","r":0.063},{"a":93.75,"s":"g","r":0.066},{"a":94,"s":"g","r":0.069},{"a":94.25,"s":"g","r":0.072},{"a":94.5,"s":"g","r":0.075},{"a":94.75,"s":"g","r":0.078},{"a":95,"s":"g","r":0.081},{"a":95.25,"s":"g","r":0.085},{"a":95.5,"s":"g","r":0.089},{"a":95.75,"s":"g","r":0.094},{"a":96,"s":"g","r":0.099},{"a":96.25,"s":"g","r":0.104},{"a":96.5,"s":"g","r":0.109},{"a":96.75,"s":"g","r":0.115},{"a":97,"s":"g","r":0.122},{"a":97.25,"s":"g","r":0.155},{"a":97.5,"s":"g","r":0.168},{"a":97.75,"s":"g","r":0.178},{"a":98,"s":"g","r":0.19},{"a":98.25,"s":"g","r":0.202},{"a":98.5,"s":"g","r":0.212},{"a":98.75,"s":"g","r":0.225},{"a":99,"s":"g","r":0.238},{"a":99.25,"s":"g","r":0.26},{"a":99.5,"s":"g","r":0.285},{"a":99.75,"s":"g","r":0.315},{"a":100,"s":"g","r":0.34},{"a":100.25,"s":"g","r":0.365},{"a":100.5,"s":"g","r":0.39},{"a":100.75,"s":"g","r":0.415},{"a":101,"s":"g","r":0.44},{"a":101.25,"s":"g","r":0.47},{"a":101.5,"s":"g","r":0.51},{"a":101.75,"s":"g","r":0.56},{"a":102,"s":"g","r":0.59},{"a":102.25,"s":"g","r":0.6},{"a":102.5,"s":"g","r":0.61},{"a":102.75,"s":"g","r":0.615},{"a":103,"s":"g","r":0.62},{"a":103.25,"s":"g","r":0.63},{"a":103.5,"s":"g","r":0.645},{"a":103.75,"s":"g","r":0.66},{"a":104,"s":"g","r":0.675},{"a":104.25,"s":"g","r":0.695},{"a":104.5,"s":"g","r":0.715},{"a":104.75,"s":"g","r":0.74},{"a":105,"s":"g","r":0.755},{"a":105.25,"s":"g","r":0.76},{"a":105.5,"s":"g","r":0.755},{"a":105.75,"s":"g","r":0.76},{"a":106,"s":"g","r":0.76},{"a":106.25,"s":"g","r":0.765},{"a":106.5,"s":"g","r":0.77},{"a":106.75,"s":"g","r":0.765},{"a":107,"s":"g","r":0.76},{"a":107.25,"s":"g","r":0.755},{"a":107.5,"s":"g","r":0.745},{"a":107.75,"s":"g","r":0.725},{"a":108,"s":"g","r":0.71}
   ]},
   "mark":{"type":"circle","size":14,"opacity":0.95},
   "encoding":{
    "x":{"field":"a","type":"quantitative","scale":{"domain":[59.75,110.17],"nice":false,"zero":false},"axis":{"values":[60,70,80,90,100,110],"format":"d","title":"Azimuth / °","labelFontSize":10.5,"titleFontSize":11,"tickSize":4,"labelPadding":3,"titlePadding":4,"domainColor":"#333","tickColor":"#333","labelColor":"#262626","titleColor":"#262626"}},
    "y":{"field":"r","type":"quantitative","scale":{"domain":[-0.053,1.114],"nice":false,"zero":false},"axis":{"values":[0,0.2,0.4,0.6,0.8,1.0],"format":".1f","title":"relative Counts","labelFontSize":10.5,"titleFontSize":11,"tickSize":4,"labelPadding":4,"titlePadding":6,"domainColor":"#333","tickColor":"#333","labelColor":"#262626","titleColor":"#262626"}},
    "color":{"field":"s","type":"nominal","sort":null,"scale":{"domain":["n","v","g"],"range":["#1f77b4","#ff7f0e","#2ca02c"]},
     "legend":{"title":"CEM grid opening","orient":"none","legendX":298,"legendY":7,"padding":4.5,"strokeColor":"#cccccc","fillColor":"rgba(255,255,255,0.8)","cornerRadius":3,"titleFontSize":11.4,"titleFontWeight":"normal","titlePadding":4,"labelFontSize":11,"symbolType":"circle","symbolSize":14,"symbolOffset":10,"labelOffset":14,"rowPadding":6,"symbolStrokeWidth":0,"labelExpr":"datum.label === 'n' ? 'No grid' : datum.label === 'v' ? 'Vertical bar' : '\"Nominal\"'"}}
   }}
 ]},
 {"bounds":"flush","spacing":11,"resolve":{"scale":{"color":"independent","shape":"independent"},"legend":{"color":"independent","shape":"independent"}},"vconcat":[
  {"width":1,"height":1,"data":{"values":[]},"mark":"point"},
  {"width":364,"height":252,"view":{"stroke":"#222"},
   "title":{"text":"FWHM at 111 counts","fontSize":12,"fontWeight":"normal","offset":6},
   "layer":[
    {"data":{"values":[{"lo":985.5,"hi":1065.3}]},
     "mark":{"type":"rect","color":"#80c680"},
     "encoding":{"x":{"field":"lo","type":"quantitative","scale":{"domain":[887.7,1161.5],"nice":false,"zero":false},"axis":{"values":[900,950,1000,1050,1100,1150],"format":"d","title":"Beam Energy per Charge [eV/e]","labelFontSize":13,"titleFontSize":13.5,"labelPadding":3,"titlePadding":4,"domain":false}},"x2":{"field":"hi"}}},
    {"data":{"values":[
{"e":900,"g":0.24},{"e":905,"g":0.4},{"e":910,"g":0.68},{"e":915,"g":1.1},{"e":920,"g":1.77},{"e":925,"g":2.76},{"e":930,"g":4.23},{"e":935,"g":6.34},{"e":940,"g":9.3},{"e":945,"g":13.3},{"e":950,"g":18.7},{"e":955,"g":25.7},{"e":960,"g":34.5},{"e":965,"g":45.4},{"e":970,"g":58.4},{"e":975,"g":73.5},{"e":980,"g":90.6},{"e":985,"g":109.1},{"e":990,"g":128.7},{"e":995,"g":148.5},{"e":1000,"g":167.7},{"e":1005,"g":185.2},{"e":1010,"g":200.3},{"e":1015,"g":211.8},{"e":1020,"g":219.2},{"e":1025,"g":222},{"e":1030,"g":220},{"e":1035,"g":213.3},{"e":1040,"g":202.4},{"e":1045,"g":187.8},{"e":1050,"g":170.6},{"e":1055,"g":151.7},{"e":1060,"g":131.9},{"e":1065,"g":112.2},{"e":1070,"g":93.5},{"e":1075,"g":76.1},{"e":1080,"g":60.7},{"e":1085,"g":47.3},{"e":1090,"g":36.1},{"e":1095,"g":27},{"e":1100,"g":19.7},{"e":1105,"g":14.1},{"e":1110,"g":9.9},{"e":1115,"g":6.8},{"e":1120,"g":4.5},{"e":1125,"g":3},{"e":1130,"g":1.9},{"e":1135,"g":1.2},{"e":1140,"g":0.73},{"e":1145,"g":0.44},{"e":1150,"g":0.26}]},
     "mark":{"type":"line","strokeWidth":1.5,"color":"#1f77b4"},
     "encoding":{"x":{"field":"e","type":"quantitative"},"y":{"field":"g","type":"quantitative","scale":{"domain":[-10.6,240.9],"nice":false,"zero":false},"axis":{"values":[0,50,100,150,200],"format":"d","title":"Total Counts Longitude","labelFontSize":13,"titleFontSize":13.5,"labelPadding":3,"titlePadding":6,"domain":false}}}},
    {"data":{"values":[
{"e":900,"v":3.0},{"e":902.5,"v":3.2},{"e":905,"v":3.4},{"e":907.5,"v":3.6},{"e":910,"v":3.8},{"e":912.5,"v":4.0},{"e":915,"v":4.1},{"e":917.5,"v":4.3},{"e":920,"v":4.4},{"e":922.5,"v":4.6},{"e":925,"v":4.7},{"e":927.5,"v":4.8},{"e":930,"v":4.9},{"e":932.5,"v":5.0},{"e":935,"v":5.1},{"e":937.5,"v":5.2},{"e":940,"v":5.3},{"e":942.5,"v":5.5},{"e":945,"v":5.8},{"e":947.5,"v":6.5},{"e":950,"v":9},{"e":952.5,"v":12},{"e":955,"v":16},{"e":957.5,"v":22},{"e":960,"v":27},{"e":962.5,"v":33},{"e":965,"v":40},{"e":967.5,"v":47},{"e":970,"v":54},{"e":972.5,"v":61},{"e":975,"v":67},{"e":977.5,"v":84},{"e":980,"v":92},{"e":982.5,"v":96},{"e":985,"v":112},{"e":987.5,"v":124},{"e":990,"v":138},{"e":992.5,"v":152},{"e":995,"v":160},{"e":997.5,"v":176},{"e":1000,"v":184},{"e":1002.5,"v":198},{"e":1005,"v":210},{"e":1007.5,"v":216},{"e":1010,"v":220},{"e":1012.5,"v":223},{"e":1015,"v":227},{"e":1017.5,"v":229},{"e":1020,"v":229},{"e":1022.5,"v":226},{"e":1025,"v":222},{"e":1027.5,"v":216},{"e":1030,"v":210},{"e":1032.5,"v":204},{"e":1035,"v":198},{"e":1037.5,"v":192},{"e":1040,"v":185},{"e":1042.5,"v":177},{"e":1045,"v":172},{"e":1047.5,"v":164},{"e":1050,"v":160},{"e":1052.5,"v":151},{"e":1055,"v":144},{"e":1057.5,"v":134},{"e":1060,"v":128},{"e":1062.5,"v":121},{"e":1065,"v":114},{"e":1067.5,"v":106},{"e":1070,"v":99},{"e":1072.5,"v":93},{"e":1075,"v":86},{"e":1077.5,"v":79},{"e":1080,"v":72},{"e":1082.5,"v":64},{"e":1085,"v":58},{"e":1087.5,"v":51},{"e":1090,"v":44},{"e":1092.5,"v":37},{"e":1095,"v":32},{"e":1097.5,"v":26},{"e":1100,"v":20},{"e":1102.5,"v":15},{"e":1105,"v":12},{"e":1107.5,"v":10},{"e":1110,"v":7},{"e":1112.5,"v":5},{"e":1115,"v":3},{"e":1117.5,"v":2},{"e":1120,"v":1.2},{"e":1122.5,"v":1.0},{"e":1125,"v":0.9},{"e":1127.5,"v":0.8},{"e":1130,"v":0.8},{"e":1132.5,"v":0.8},{"e":1135,"v":0.8},{"e":1137.5,"v":0.8},{"e":1140,"v":0.8},{"e":1142.5,"v":0.8},{"e":1145,"v":0.8},{"e":1147.5,"v":0.8},{"e":1150,"v":0.8}]},
     "mark":{"type":"point","filled":true,"size":144,"opacity":1},
     "encoding":{"x":{"field":"e","type":"quantitative"},"y":{"field":"v","type":"quantitative"},
      "color":{"datum":"Data","scale":{"domain":["GausFit","Data","FWHM Δ E=79.8keV"],"range":["#1f77b4","#ff7f0e","#80c680"]},"legend":{"title":null,"orient":"none","legendX":15,"legendY":10,"symbolSize":144,"labelFontSize":10.5,"labelOffset":14,"rowPadding":4.5,"symbolStrokeWidth":0,"padding":0}},
      "shape":{"datum":"Data","scale":{"domain":["GausFit","Data","FWHM Δ E=79.8keV"],"range":["M-2,-0.12H2V0.12H-2Z","M-0.61,0A0.61,0.61 0 1,0 0.61,0A0.61,0.61 0 1,0 -0.61,0Z","M-2,-0.6H2V0.6H-2Z"]},"legend":{"title":null,"orient":"none","legendX":15,"legendY":10,"symbolSize":144,"labelFontSize":10.5,"labelOffset":14,"rowPadding":4.5,"symbolStrokeWidth":0,"padding":0}}}}
   ]}
 ]}
]}
]
}
